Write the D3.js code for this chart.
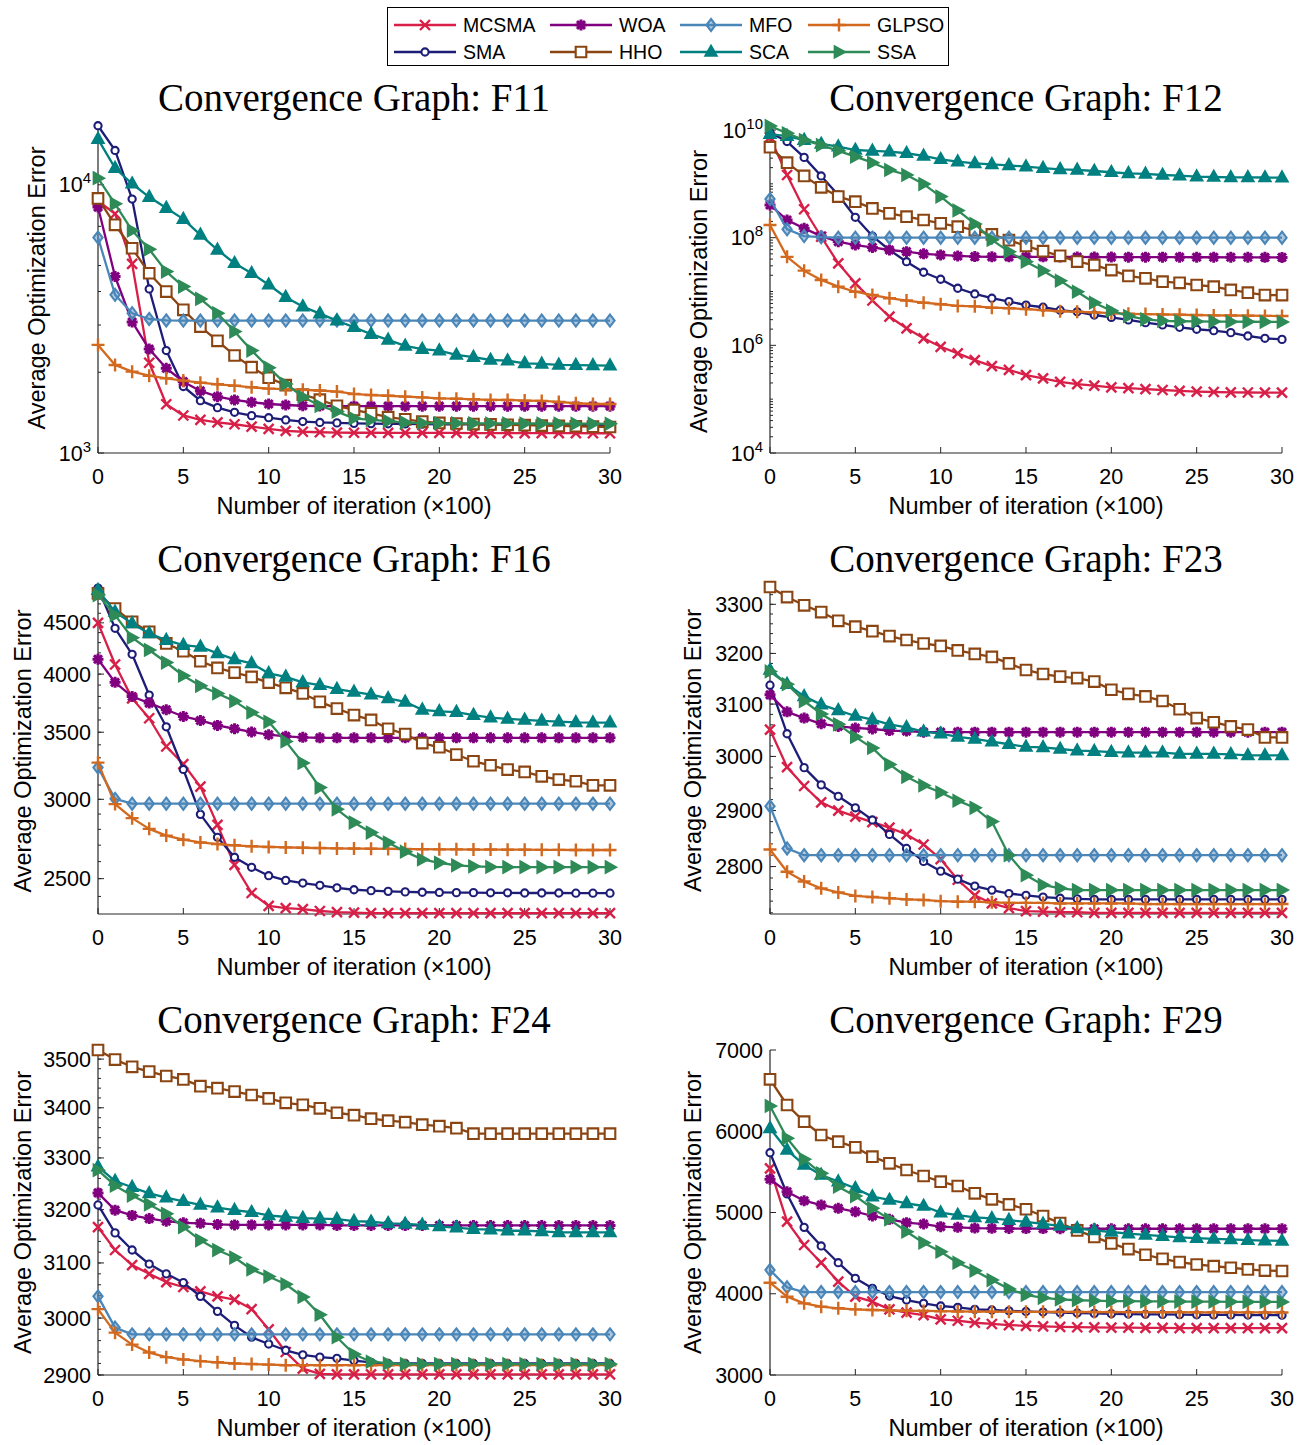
<!DOCTYPE html>
<html>
<head>
<meta charset="utf-8">
<script src="https://cdn.jsdelivr.net/npm/d3@7"></script>
<style>
  body { margin: 0; background: #fff; }
  svg { display: block; }
</style>
</head>
<body>
<div id="chart"></div>
<script>
// iteration axis (x100)
var iters = d3.range(0, 31);
var algos = ["MCSMA", "SMA", "WOA", "HHO", "MFO", "SCA", "GLPSO", "SSA"];

// average optimization error per algorithm, one object per test function
var F11 = {
  MCSMA: [8700,7800,5070,2170,1520,1380,1330,1300,1280,1255,1230,1210,1200,1195,1192,1190,1190,1189,1189,1188,1188,1188,1187,1187,1187,1186,1186,1186,1186,1185,1185],
  SMA:   [16600,13430,8850,4090,2410,1770,1567,1476,1418,1378,1354,1328,1310,1300,1295,1290,1287,1285,1283,1281,1280,1279,1278,1277,1276,1275,1274,1273,1272,1271,1270],
  WOA:   [8260,4550,3080,2440,2070,1845,1704,1622,1577,1546,1523,1510,1500,1497,1496,1496,1496,1495,1495,1495,1495,1495,1495,1495,1495,1495,1495,1495,1495,1495,1495],
  HHO:   [8900,7090,5800,4680,4000,3420,2960,2620,2310,2090,1910,1790,1650,1580,1500,1447,1406,1360,1335,1310,1295,1288,1282,1278,1274,1270,1266,1262,1258,1254,1250],
  MFO:   [6360,3890,3320,3160,3120,3117,3117,3117,3117,3117,3117,3117,3117,3117,3117,3117,3117,3117,3117,3117,3117,3117,3117,3117,3117,3117,3117,3117,3117,3117,3117],
  SCA:   [14810,11540,10090,9000,8190,7450,6510,5720,5100,4680,4240,3810,3515,3310,3117,2943,2776,2640,2508,2438,2409,2320,2277,2222,2209,2160,2150,2130,2125,2122,2117],
  GLPSO: [2530,2130,2011,1942,1899,1862,1829,1804,1782,1758,1738,1729,1720,1710,1694,1660,1645,1635,1622,1612,1599,1594,1586,1577,1577,1568,1564,1550,1533,1523,1523],
  SSA:   [10590,8495,6750,5750,4750,4175,3755,3322,2836,2409,2081,1809,1622,1500,1426,1347,1330,1315,1298,1293,1291,1290,1290,1289,1289,1288,1288,1287,1286,1286,1285]
};
var F12 = {
  MCSMA: [7.3e9,1.46e9,3.37e8,1.04e8,3.34e7,1.42e7,6.8e6,3.4e6,2.07e6,1.35e6,9.4e5,7.1e5,5.3e5,4.1e5,3.5e5,2.8e5,2.44e5,2.1e5,1.9e5,1.78e5,1.66e5,1.6e5,1.54e5,1.48e5,1.42e5,1.38e5,1.36e5,1.34e5,1.33e5,1.32e5,1.32e5],
  SMA:   [9.0e9,6.1e9,3.1e9,1.4e9,6.2e8,2.39e8,1.07e8,5.9e7,3.58e7,2.28e7,1.69e7,1.15e7,9.0e6,7.5e6,6.5e6,5.6e6,5.1e6,4.5e6,4.2e6,3.66e6,3.3e6,2.96e6,2.64e6,2.39e6,2.16e6,1.99e6,1.87e6,1.72e6,1.49e6,1.35e6,1.29e6],
  WOA:   [4.05e8,2.13e8,1.49e8,1.07e8,8.4e7,7.3e7,6.6e7,5.9e7,5.5e7,5.0e7,4.77e7,4.57e7,4.45e7,4.4e7,4.4e7,4.4e7,4.4e7,4.38e7,4.38e7,4.36e7,4.36e7,4.35e7,4.35e7,4.34e7,4.34e7,4.33e7,4.33e7,4.32e7,4.32e7,4.31e7,4.3e7],
  HHO:   [4.8e9,2.47e9,1.4e9,8.6e8,5.8e8,4.67e8,3.5e8,2.83e8,2.45e8,2.13e8,1.85e8,1.6e8,1.38e8,1.15e8,9.0e7,7.0e7,5.6e7,4.6e7,3.6e7,3.1e7,2.5e7,1.95e7,1.76e7,1.52e7,1.45e7,1.32e7,1.23e7,1.07e7,9.5e6,8.6e6,8.6e6],
  MFO:   [5.2e8,1.43e8,1.07e8,1.02e8,1.0e8,1.0e8,1.0e8,1.0e8,1.0e8,1.0e8,1.0e8,1.0e8,1.0e8,1.0e8,1.0e8,1.0e8,1.0e8,1.0e8,1.0e8,1.0e8,1.0e8,1.0e8,1.0e8,1.0e8,1.0e8,1.0e8,1.0e8,1.0e8,1.0e8,1.0e8,1.0e8],
  SCA:   [8.4e9,7.7e9,6.5e9,5.5e9,4.9e9,4.25e9,4.1e9,3.95e9,3.7e9,3.3e9,2.86e9,2.58e9,2.4e9,2.3e9,2.2e9,2.08e9,1.95e9,1.86e9,1.81e9,1.73e9,1.64e9,1.57e9,1.53e9,1.46e9,1.42e9,1.36e9,1.34e9,1.32e9,1.32e9,1.31e9,1.3e9],
  GLPSO: [1.72e8,4.4e7,2.44e7,1.64e7,1.23e7,9.9e6,8.6e6,7.5e6,6.8e6,6.2e6,5.8e6,5.4e6,5.3e6,5.0e6,4.9e6,4.7e6,4.5e6,4.3e6,4.2e6,4.1e6,3.95e6,3.85e6,3.8e6,3.75e6,3.7e6,3.65e6,3.6e6,3.58e6,3.55e6,3.52e6,3.5e6],
  SSA:   [1.19e10,8.7e9,6.5e9,5.25e9,4.1e9,3.2e9,2.47e9,1.81e9,1.46e9,9.9e8,5.8e8,3.2e8,1.8e8,9.1e7,5.5e7,3.58e7,2.44e7,1.59e7,9.9e6,6.2e6,4.4e6,3.5e6,3.04e6,2.85e6,2.8e6,2.78e6,2.76e6,2.75e6,2.74e6,2.73e6,2.72e6]
};
var F16 = {
  MCSMA: [4500,4089,3783,3614,3387,3253,3089,2829,2580,2419,2348,2336,2331,2321,2315,2312,2310,2310,2310,2310,2310,2310,2310,2310,2310,2310,2310,2310,2310,2310,2310],
  SMA:   [4874,4444,4186,3812,3544,3213,2898,2749,2626,2566,2517,2490,2475,2462,2448,2437,2432,2428,2425,2423,2422,2421,2421,2420,2420,2419,2419,2419,2418,2418,2418],
  WOA:   [4139,3925,3799,3742,3685,3629,3596,3555,3528,3502,3480,3467,3459,3455,3455,3455,3455,3455,3455,3455,3455,3455,3455,3455,3455,3455,3455,3455,3455,3455,3455],
  HHO:   [4815,4650,4510,4408,4292,4216,4120,4057,4014,3974,3923,3876,3826,3753,3695,3641,3600,3528,3485,3414,3381,3325,3274,3244,3212,3195,3163,3139,3127,3098,3098],
  MFO:   [3227,3003,2970,2970,2970,2970,2970,2970,2970,2970,2970,2970,2970,2970,2970,2970,2970,2970,2970,2970,2970,2970,2970,2970,2970,2970,2970,2970,2970,2970,2970],
  SCA:   [4851,4614,4494,4392,4324,4276,4259,4195,4137,4099,4007,3975,3924,3900,3864,3840,3816,3783,3753,3685,3671,3666,3641,3620,3609,3600,3593,3587,3580,3578,3578],
  GLPSO: [3264,2967,2873,2803,2760,2734,2717,2707,2699,2693,2689,2686,2684,2682,2680,2679,2678,2677,2676,2675,2674,2674,2673,2673,2672,2672,2671,2671,2670,2670,2670],
  SSA:   [4797,4580,4349,4228,4108,3985,3894,3826,3759,3663,3585,3427,3261,3082,2932,2844,2779,2716,2660,2613,2593,2578,2572,2568,2567,2567,2567,2567,2567,2567,2567]
};
var F23 = {
  MCSMA: [3051,2980,2945,2915,2900,2889,2879,2869,2857,2839,2813,2777,2750,2736,2728,2723,2722,2721,2721,2720,2720,2720,2720,2720,2720,2720,2720,2720,2720,2720,2720],
  SMA:   [3137,3043,2979,2947,2926,2905,2883,2857,2832,2809,2792,2778,2766,2759,2753,2750,2747,2745,2744,2743,2743,2743,2743,2743,2743,2743,2743,2743,2743,2743,2743],
  WOA:   [3118,3085,3073,3062,3057,3054,3052,3049,3048,3046,3046,3046,3046,3046,3046,3046,3046,3046,3046,3046,3046,3046,3046,3046,3046,3046,3046,3046,3046,3046,3046],
  HHO:   [3336,3315,3298,3284,3266,3254,3245,3235,3227,3220,3215,3206,3199,3193,3180,3167,3159,3154,3151,3144,3128,3120,3115,3106,3090,3073,3065,3057,3051,3036,3036],
  MFO:   [2908,2832,2820,2820,2820,2820,2820,2820,2820,2820,2820,2820,2820,2820,2820,2820,2820,2820,2820,2820,2820,2820,2820,2820,2820,2820,2820,2820,2820,2820,2820],
  SCA:   [3167,3139,3115,3099,3088,3077,3070,3061,3055,3047,3043,3037,3033,3028,3023,3018,3017,3014,3011,3010,3008,3007,3007,3007,3005,3005,3005,3004,3002,3002,3002],
  GLPSO: [2830,2791,2774,2762,2755,2749,2747,2745,2743,2742,2740,2739,2739,2738,2737,2737,2737,2736,2736,2736,2736,2736,2735,2735,2735,2735,2735,2735,2735,2735,2735],
  SSA:   [3164,3139,3106,3081,3061,3037,3016,2985,2962,2946,2933,2918,2905,2880,2820,2785,2768,2762,2759,2759,2759,2759,2759,2759,2759,2759,2759,2759,2759,2759,2759]
};
var F24 = {
  MCSMA: [3167,3124,3096,3080,3065,3056,3048,3039,3033,3016,2980,2940,2911,2902,2901,2901,2901,2901,2901,2901,2901,2901,2901,2901,2901,2901,2901,2901,2901,2901,2901],
  SMA:   [3209,3156,3124,3098,3080,3064,3039,3012,2987,2966,2954,2943,2935,2931,2929,2925,2922,2920,2920,2920,2920,2920,2920,2920,2920,2920,2920,2920,2920,2920,2920],
  WOA:   [3232,3199,3189,3183,3178,3175,3174,3172,3171,3171,3171,3171,3171,3171,3170,3170,3170,3170,3170,3170,3170,3170,3170,3170,3170,3170,3170,3170,3170,3170,3170],
  HHO:   [3519,3499,3484,3474,3465,3458,3444,3440,3433,3426,3419,3410,3406,3399,3390,3385,3378,3374,3371,3366,3363,3359,3348,3348,3348,3348,3348,3348,3348,3348,3348],
  MFO:   [3039,2983,2971,2971,2971,2971,2971,2971,2971,2971,2971,2971,2971,2971,2971,2971,2971,2971,2971,2971,2971,2971,2971,2971,2971,2971,2971,2971,2971,2971,2971],
  SCA:   [3283,3255,3243,3231,3223,3216,3209,3204,3199,3195,3189,3186,3184,3183,3182,3178,3177,3174,3173,3171,3168,3166,3163,3162,3160,3160,3159,3157,3157,3157,3157],
  GLPSO: [3016,2974,2953,2939,2931,2927,2924,2922,2920,2919,2918,2917,2917,2917,2917,2917,2917,2917,2917,2917,2917,2917,2917,2917,2917,2917,2917,2917,2917,2917,2917],
  SSA:   [3276,3246,3227,3210,3192,3167,3142,3124,3110,3088,3075,3061,3038,3006,2966,2936,2923,2920,2919,2919,2919,2919,2919,2919,2919,2919,2919,2919,2919,2919,2919]
};
var F29 = {
  MCSMA: [5544,4887,4600,4382,4149,3964,3902,3808,3767,3738,3685,3668,3643,3628,3615,3605,3598,3592,3588,3585,3583,3582,3581,3580,3578,3578,3578,3578,3578,3578,3578],
  SMA:   [5736,5228,4817,4588,4382,4190,4067,3972,3923,3882,3849,3833,3808,3800,3790,3782,3775,3768,3763,3758,3754,3750,3747,3745,3743,3741,3740,3739,3738,3737,3736],
  WOA:   [5409,5256,5145,5092,5051,5010,4957,4916,4875,4858,4826,4817,4808,4805,4803,4802,4802,4801,4801,4800,4800,4800,4800,4800,4800,4800,4800,4800,4800,4800,4800],
  HHO:   [6639,6323,6118,5954,5872,5802,5687,5605,5523,5449,5380,5326,5236,5162,5100,5040,4957,4870,4780,4700,4620,4550,4480,4430,4390,4360,4340,4320,4300,4285,4280],
  MFO:   [4292,4079,4021,4021,4021,4021,4021,4021,4021,4021,4021,4021,4021,4021,4021,4021,4021,4021,4021,4021,4021,4021,4021,4021,4021,4021,4021,4021,4021,4021,4021],
  SCA:   [6036,5769,5585,5462,5380,5298,5195,5154,5113,5080,4998,4969,4941,4928,4905,4885,4860,4835,4805,4780,4760,4740,4725,4710,4695,4685,4675,4668,4660,4655,4650],
  GLPSO: [4136,3964,3882,3841,3821,3808,3800,3795,3791,3788,3785,3782,3780,3779,3778,3777,3777,3776,3776,3775,3775,3774,3774,3773,3773,3772,3772,3771,3771,3770,3770],
  SSA:   [6311,5913,5655,5482,5318,5203,5051,4916,4764,4628,4518,4382,4284,4169,4060,3985,3950,3930,3920,3915,3910,3908,3906,3905,3904,3903,3902,3901,3900,3900,3900]
};

var colors = {MCSMA:"#d81f48", SMA:"#1d1d78", WOA:"#800080", HHO:"#8b4513",
              MFO:"#4a86b8", SCA:"#008080", GLPSO:"#d2691e", SSA:"#2e8b57"};
var shapes = {MCSMA:"x", SMA:"o", WOA:"*", HHO:"s", MFO:"d", SCA:"^", GLPSO:"+", SSA:">"};
var drawOrder = ["MCSMA","SMA","WOA","HHO","MFO","SCA","GLPSO","SSA"];

var sansFont = "'Liberation Sans', Arial, Helvetica, sans-serif";
var serifFont = "'Liberation Serif', 'Times New Roman', serif";

var width = 1309, height = 1445;
var svg = d3.select("#chart").append("svg")
  .attr("width", width)
  .attr("height", height)
  .style("background", "#fff");

// panel layout
var colX = [[98, 610], [770, 1282]];
var rowBottom = [453, 914, 1375];

var panels = [
  {title:"F11", data:F11, log:true, domain:[1000, 17000], top:123, col:0, row:0, ylab:53.5,
   major:[1000, 10000], minor:d3.range(2, 10).map(function(k){ return k*1000; }), sup:true},
  {title:"F12", data:F12, log:true, domain:[1e4, 1e10], top:130, col:1, row:0, ylab:63.5,
   major:[1e4, 1e6, 1e8, 1e10], minor:[], sup:true},
  {title:"F16", data:F16, log:true, domain:[2305, 4875], top:588, col:0, row:1, ylab:67.5,
   major:[2500, 3000, 3500, 4000, 4500], minor:d3.range(2400, 4900, 100)},
  {title:"F23", data:F23, log:true, domain:[2718, 3336], top:587, col:1, row:1, ylab:69,
   major:[2800, 2900, 3000, 3100, 3200, 3300], minor:d3.range(2720, 3340, 20)},
  {title:"F24", data:F24, log:true, domain:[2900, 3519], top:1050, col:0, row:2, ylab:67.5,
   major:[2900, 3000, 3100, 3200, 3300, 3400, 3500], minor:d3.range(2900, 3520, 20)},
  {title:"F29", data:F29, log:false, domain:[3000, 7000], top:1050, col:1, row:2, ylab:69,
   major:[3000, 4000, 5000, 6000, 7000], minor:[]}
];
// F12 minor ticks: every decade plus 2..9 multiples
for (var e = 4; e < 10; e++) {
  for (var k = 1; k < 10; k++) {
    if (k === 1 && e % 2 === 0) continue;
    panels[1].minor.push(k * Math.pow(10, e));
  }
}

function markerPath(type) {
  switch (type) {
    case "x": return "M-5,-5L5,5M-5,5L5,-5";
    case "+": return "M-6.5,0L6.5,0M0,-6.5L0,6.5";
    case "*": return "M-5.5,0L5.5,0M0,-5.5L0,5.5M-4,-4L4,4M-4,4L4,-4";
    case "o": return "M3.6,0A3.6,3.6 0 1,1 -3.6,0A3.6,3.6 0 1,1 3.6,0Z";
    case "s": return "M-5.3,-5.3L5.3,-5.3L5.3,5.3L-5.3,5.3Z";
    case "d": return "M0,-6L4.6,0L0,6L-4.6,0Z";
    case "^": return "M0,-6.2L5.6,3.8L-5.6,3.8Z";
    case ">": return "M-4.3,-5.6L5.9,0L-4.3,5.6Z";
  }
}
function markerFill(type, c) {
  if (type === "^" || type === ">" || type === "d") return c;
  if (type === "s" || type === "o") return "#fff";
  return "none";
}
function markerFillOpacity(type) {
  return type === "d" ? 0.45 : 1;
}
function markerStroke(type) {
  if (type === "*") return 3;
  if (type === "x" || type === "+") return 2.4;
  return 2.1;
}

panels.forEach(function(p) {
  var x0 = colX[p.col][0], x1 = colX[p.col][1];
  var bottom = rowBottom[p.row];
  var g = svg.append("g");

  var x = d3.scaleLinear().domain([0, 30]).range([x0, x1]);
  var y = (p.log ? d3.scaleLog() : d3.scaleLinear()).domain(p.domain).range([bottom, p.top]);

  // title
  g.append("text")
    .attr("x", (x0 + x1) / 2)
    .attr("y", bottom - 342)
    .attr("text-anchor", "middle")
    .style("font-family", serifFont)
    .style("font-size", "39px")
    .text("Convergence Graph: " + p.title);

  // minor y ticks (inward)
  g.selectAll(".minor").data(p.minor.filter(function(v){ return v >= p.domain[0] && v <= p.domain[1]; }))
    .enter().append("line")
    .attr("x1", x0).attr("x2", x0 + 3)
    .attr("y1", function(d){ return y(d); }).attr("y2", function(d){ return y(d); })
    .attr("stroke", "#262626").attr("stroke-width", 1);

  // major y ticks
  g.selectAll(".major").data(p.major)
    .enter().append("line")
    .attr("x1", x0).attr("x2", x0 + 6)
    .attr("y1", function(d){ return y(d); }).attr("y2", function(d){ return y(d); })
    .attr("stroke", "#262626").attr("stroke-width", 1);

  // y tick labels
  p.major.forEach(function(v) {
    var t = g.append("text")
      .attr("x", x0 - 7)
      .attr("y", y(v) + 7.5)
      .attr("text-anchor", "end")
      .style("font-family", sansFont)
      .style("font-size", "21.5px");
    if (p.sup) {
      t.append("tspan").text("10");
      t.append("tspan").attr("dy", -9).style("font-size", "15px").text(Math.round(Math.log10(v)));
    } else {
      t.text(v);
    }
  });

  // x ticks
  var xt = [0, 5, 10, 15, 20, 25, 30];
  g.selectAll(".xt").data(xt).enter().append("line")
    .attr("x1", function(d){ return x(d); }).attr("x2", function(d){ return x(d); })
    .attr("y1", bottom).attr("y2", bottom - 6)
    .attr("stroke", "#262626").attr("stroke-width", 1);
  g.selectAll(".xl").data(xt).enter().append("text")
    .attr("x", function(d){ return x(d); })
    .attr("y", bottom + 31)
    .attr("text-anchor", "middle")
    .style("font-family", sansFont)
    .style("font-size", "21.5px")
    .text(function(d){ return d; });

  // axis lines
  g.append("line").attr("x1", x0).attr("x2", x0).attr("y1", p.top).attr("y2", bottom)
    .attr("stroke", "#262626").attr("stroke-width", 1.2);
  g.append("line").attr("x1", x0).attr("x2", x1).attr("y1", bottom).attr("y2", bottom)
    .attr("stroke", "#262626").attr("stroke-width", 1.2);

  // axis labels
  g.append("text")
    .attr("x", (x0 + x1) / 2)
    .attr("y", bottom + 61)
    .attr("text-anchor", "middle")
    .style("font-family", sansFont)
    .style("font-size", "23.5px")
    .text("Number of iteration (\u00d7100)");
  var ly = (p.top + bottom) / 2;
  g.append("text")
    .attr("transform", "translate(" + (x0 - p.ylab) + "," + ly + ") rotate(-90)")
    .attr("text-anchor", "middle")
    .style("font-family", sansFont)
    .style("font-size", "23.5px")
    .text("Average Optimization Error");

  // series
  var line = d3.line()
    .x(function(d, i){ return x(iters[i]); })
    .y(function(d){ return y(d); });

  drawOrder.forEach(function(name) {
    var vals = p.data[name];
    var c = colors[name];
    var sh = shapes[name];
    var s = g.append("g");
    s.append("path")
      .attr("d", line(vals))
      .attr("fill", "none")
      .attr("stroke", c)
      .attr("stroke-width", 2.3)
      .attr("stroke-linejoin", "round");
    s.selectAll("path.m").data(vals).enter().append("path")
      .attr("class", "m")
      .attr("d", markerPath(sh))
      .attr("transform", function(d, i){ return "translate(" + x(iters[i]) + "," + y(d) + ")"; })
      .attr("fill", markerFill(sh, c))
      .attr("fill-opacity", markerFillOpacity(sh))
      .attr("stroke", c)
      .attr("stroke-width", markerStroke(sh));
  });
});

// legend
var legend = svg.append("g");
legend.append("rect")
  .attr("x", 387.5).attr("y", 7.5).attr("width", 561).attr("height", 58)
  .attr("fill", "#fff").attr("stroke", "#000").attr("stroke-width", 1);

var legendCols = [394, 550, 680, 808];
var legendRows = [25, 52];
algos.forEach(function(name, i) {
  var cx = legendCols[Math.floor(i / 2)];
  var cy = legendRows[i % 2];
  var c = colors[name];
  var sh = shapes[name];
  legend.append("line")
    .attr("x1", cx).attr("x2", cx + 62).attr("y1", cy).attr("y2", cy)
    .attr("stroke", c).attr("stroke-width", 2.3);
  legend.append("path")
    .attr("d", markerPath(sh))
    .attr("transform", "translate(" + (cx + 31) + "," + cy + ")")
    .attr("fill", markerFill(sh, c))
    .attr("fill-opacity", markerFillOpacity(sh))
    .attr("stroke", c)
    .attr("stroke-width", markerStroke(sh));
  legend.append("text")
    .attr("x", cx + 69).attr("y", cy + 7)
    .style("font-family", sansFont)
    .style("font-size", "19.5px")
    .text(name);
});
</script>
</body>
</html>
